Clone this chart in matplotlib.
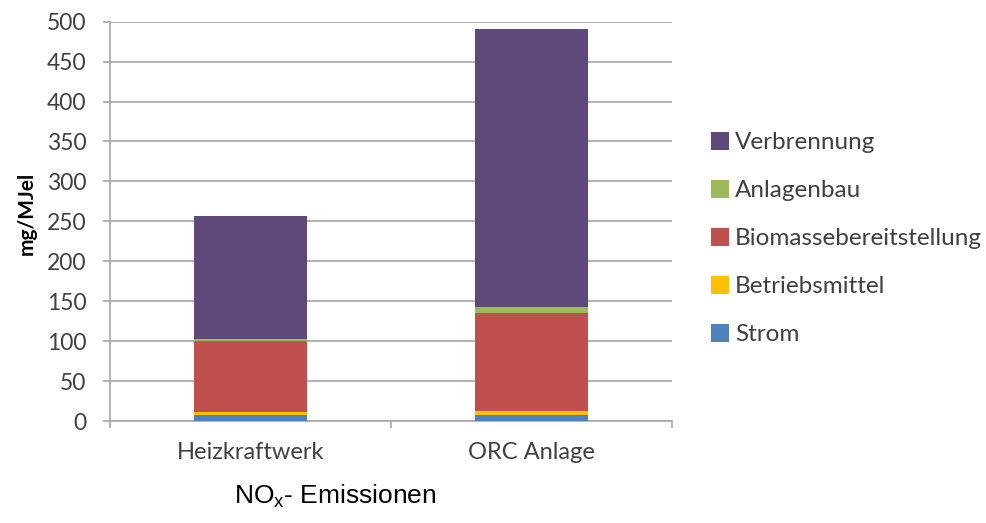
import matplotlib
matplotlib.use("Agg")
import matplotlib.pyplot as plt
import numpy as np

categories = ["Heizkraftwerk", "ORC Anlage"]
series_names = ["Strom", "Betriebsmittel", "Biomassebereitstellung", "Anlagenbau", "Verbrennung"]
strom = [8, 8]
betriebsmittel = [3.5, 5]
biomasse = [88.5, 122]
anlagenbau = [3, 8]
verbrennung = [154, 348]
colors = ["#4F81BD", "#FFC000", "#C0504D", "#9BBB59", "#5F497A"]
yticks = [0, 50, 100, 150, 200, 250, 300, 350, 400, 450, 500]

font = "Lato"
txtcol = "#404040"
gridcol = "#A6A6A6"

fig = plt.figure(figsize=(9.87, 5.23), dpi=100)
ax = fig.add_axes([110/987, (523-421)/523, (672-110)/987, (421-21.7)/523])

x = np.array([0.5, 1.5])
bottom = np.zeros(2)
handles = []
for name, vals, c in zip(series_names, [strom, betriebsmittel, biomasse, anlagenbau, verbrennung], colors):
    b = ax.bar(x, vals, width=0.4, bottom=bottom, color=c, label=name, zorder=3)
    handles.append(b)
    bottom = bottom + np.array(vals)

ax.set_xlim(0, 2)
ax.set_ylim(0, 500)
ax.set_yticks(yticks)
ax.set_yticklabels([str(v) for v in yticks], fontfamily=font, fontsize=16.5, color=txtcol)
ax.yaxis.grid(True, color=gridcol, linewidth=1.2, zorder=0)
ax.set_axisbelow(True)

ax.set_xticks([0, 1, 2])
ax.set_xticklabels([])
ax.set_xticks(x, minor=True)
ax.set_xticklabels(categories, minor=True, fontfamily=font, fontsize=17, color=txtcol)
ax.tick_params(axis="x", which="minor", length=0, pad=15)
ax.tick_params(axis="x", which="major", length=5, color=gridcol, width=1.2, direction="out")
ax.tick_params(axis="y", length=5, color=gridcol, width=1.2, direction="out", pad=12)

for s in ["top", "right"]:
    ax.spines[s].set_visible(False)
for s in ["left", "bottom"]:
    ax.spines[s].set_color(gridcol)
    ax.spines[s].set_linewidth(1.2)

ax.set_ylabel("mg/MJel", fontfamily=font, fontsize=15, fontweight="bold", color="black", labelpad=8)
ax.yaxis.set_label_coords(-0.13, 0.52)

leg = fig.legend(handles[::-1], series_names[::-1], loc="upper left",
                 bbox_to_anchor=(711/987, 1 - 132/523), frameon=False,
                 prop={"family": font, "size": 17.5}, handlelength=0.74, handleheight=0.74,
                 handletextpad=0.25, labelspacing=1.1, borderaxespad=0, borderpad=0)
for t in leg.get_texts():
    t.set_color(txtcol)

fig.text(335/987, 1 - 496/523, r"NO$_\mathregular{x}$- Emissionen", fontfamily="Liberation Sans",
         fontsize=19, ha="center", va="center", color="black")

fig.savefig("out.png", dpi=100)
